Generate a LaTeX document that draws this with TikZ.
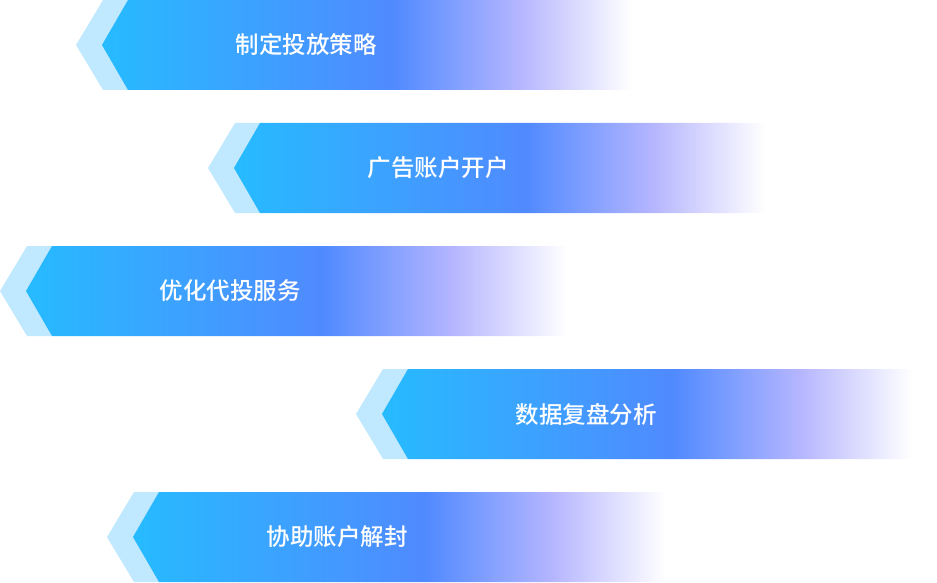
\documentclass[tikz,border=0pt]{standalone}
\usepackage{fontspec}
\newfontfamily\cjk{Noto Sans CJK SC Medium}
\definecolor{lightc}{HTML}{C0E8FE}
\definecolor{ga}{HTML}{26BBFF}
\definecolor{gb}{HTML}{508AFF}
\definecolor{gc}{HTML}{B6B6FF}
\pgfdeclarehorizontalshading{ribbonshade}{100bp}{color(0bp)=(ga); color(25bp)=(ga); color(52.5bp)=(gb); color(64.5bp)=(gc); color(75bp)=(white); color(100bp)=(white)}
\tikzset{
  lightpart/.style={fill=lightc, draw=none},
  darkpart/.style={shading=ribbonshade, draw=none},
  label/.style={text=white, font=\cjk\fontsize{23.5pt}{26pt}\selectfont, inner sep=0pt, anchor=center}
}
\begin{document}
\begin{tikzpicture}[x=1pt,y=-1pt]
\useasboundingbox (0,0) rectangle (937,583);
\foreach \t/\D/\R/\txt/\nm in {0/128/632/制定投放策略/r1, 123/260/765/广告账户开户/r2, 246/52/567/优化代投服务/r3, 369/408/912/数据复盘分析/r4, 492/159/665/协助账户解封/r5}{
  \fill[lightpart] (\D-25,\t) -- (\D-52,\t+45) -- (\D-25,\t+90) -- (\D,\t+90) -- (\D,\t) -- cycle;
  \shade[darkpart] (\D,\t) -- (\R,\t) -- (\R,\t+90) -- (\D,\t+90) -- (\D-26,\t+45) -- cycle;
  \node[label] (\nm) at (\D+178,\t+45) {\txt};
}
\end{tikzpicture}
\end{document}
